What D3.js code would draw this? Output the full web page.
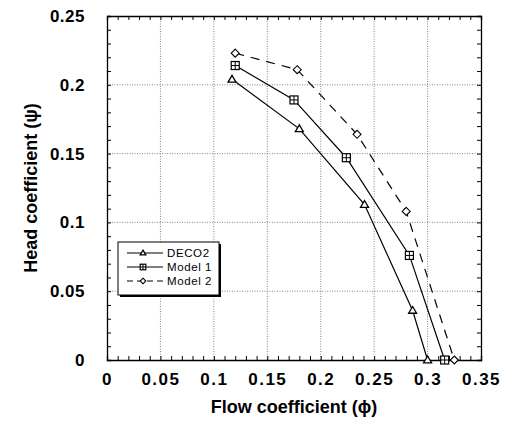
<!DOCTYPE html>
<html>
<head>
<meta charset="utf-8">
<script src="https://cdnjs.cloudflare.com/ajax/libs/d3/7.8.5/d3.min.js"></script>
<style>
  body { margin: 0; background: #fff; }
  svg { font-family: "Liberation Sans", Arial, sans-serif; }
  .tick text { font-weight: bold; font-size: 17px; fill: #000; }
  .grid line { stroke: #666; stroke-dasharray: 1,1.5; stroke-width: 0.8; }
  .lbl { font-weight: bold; font-size: 18px; }
</style>
</head>
<body>
<div id="chart"></div>
<script>

// data
var deco2X = [0.117, 0.180, 0.241, 0.286, 0.300];
var deco2Y = [0.204, 0.168, 0.113, 0.036, 0.0];

var model1X = [0.120, 0.175, 0.224, 0.283, 0.316];
var model1Y = [0.214, 0.189, 0.147, 0.076, 0.0];

var model2X = [0.120, 0.178, 0.234, 0.280, 0.325];
var model2Y = [0.223, 0.211, 0.164, 0.108, 0.0];

var xTicks = [0, 0.05, 0.1, 0.15, 0.2, 0.25, 0.3, 0.35];
var yTicks = [0, 0.05, 0.1, 0.15, 0.2, 0.25];
var seriesNames = ["DECO2", "Model 1", "Model 2"];

var margin = { left: 107, right: 29, top: 16, bottom: 64 };
var width = 510 - margin.left - margin.right;
var height = 424 - margin.top - margin.bottom;

var svg = d3.select("#chart")
    .append("svg")
    .attr("width", 510)
    .attr("height", 424)
    .append("g")
    .attr("transform", "translate(" + margin.left + "," + margin.top + ")");

var xScale = d3.scaleLinear().domain([0, 0.35]).range([0, width]);
var yScale = d3.scaleLinear().domain([0, 0.25]).range([height, 0]);

// grid
svg.append("g").attr("class", "grid")
    .selectAll("line").data(xTicks.slice(1, -1)).enter()
    .append("line")
    .attr("x1", function(d){ return xScale(d) })
    .attr("x2", function(d){ return xScale(d) })
    .attr("y1", 0).attr("y2", height);

svg.append("g").attr("class", "grid")
    .selectAll("line").data(yTicks.slice(1, -1)).enter()
    .append("line")
    .attr("y1", function(d){ return yScale(d) })
    .attr("y2", function(d){ return yScale(d) })
    .attr("x1", 0).attr("x2", width);

// minor ticks every 0.01, inward, on all four sides
var xMinor = d3.range(0, 0.3501, 0.01);
var yMinor = d3.range(0, 0.2501, 0.01);

var xAxis = d3.axisBottom(xScale).tickValues(xMinor).tickSize(-4).tickFormat("");
var yAxis = d3.axisLeft(yScale).tickValues(yMinor).tickSize(-4).tickFormat("");

svg.append("g").attr("transform", "translate(0," + height + ")").attr("class", "axis").call(xAxis);
svg.append("g").attr("class", "axis").call(d3.axisTop(xScale).tickValues(xMinor).tickSize(-4).tickFormat(""));
svg.append("g").attr("class", "axis").call(yAxis);
svg.append("g").attr("transform", "translate(" + width + ",0)").attr("class", "axis")
    .call(d3.axisRight(yScale).tickValues(yMinor).tickSize(-4).tickFormat(""));

svg.selectAll(".axis .domain").attr("stroke", "#000").attr("stroke-width", 1.3);
svg.selectAll(".axis .tick line").attr("stroke", "#000").attr("stroke-width", 1);

// tick labels
svg.append("g")
    .attr("transform", "translate(0," + height + ")")
    .call(d3.axisBottom(xScale).tickValues(xTicks).tickSize(0).tickPadding(13).tickFormat(function(d){ return d3.format("")(+d.toFixed(2)) }))
    .call(function(g){ g.select(".domain").remove() })
    .selectAll("text").attr("letter-spacing", 1.5);

svg.append("g")
    .call(d3.axisLeft(yScale).tickValues(yTicks).tickSize(0).tickPadding(22).tickFormat(function(d){ return d3.format("")(+d.toFixed(2)) }))
    .call(function(g){ g.select(".domain").remove() })
    .selectAll("text").attr("letter-spacing", 0.5);

// axis titles
svg.append("text")
    .attr("class", "lbl")
    .attr("x", width / 2)
    .attr("y", height + 53)
    .style("text-anchor", "middle")
    .text("Flow coefficient (\u03d5)");

svg.append("text")
    .attr("class", "lbl")
    .attr("transform", "rotate(-90)")
    .attr("x", -height / 2)
    .attr("y", -70)
    .style("text-anchor", "middle")
    .text("Head coefficient (\u03c8)");

// series
var line = d3.line()
    .x(function(d){ return xScale(d[0]) })
    .y(function(d){ return yScale(d[1]) });

var series = [
    { name: seriesNames[0], pts: d3.zip(deco2X, deco2Y), dash: null, marker: "tri" },
    { name: seriesNames[1], pts: d3.zip(model1X, model1Y), dash: null, marker: "sq" },
    { name: seriesNames[2], pts: d3.zip(model2X, model2Y), dash: "9,7", marker: "dia" }
];

function drawMarker(g, type, x, y, s) {
    if (type == "tri") {
        g.append("path")
            .attr("d", "M" + x + "," + (y - s) + "L" + (x + s) + "," + (y + s * 0.7) + "L" + (x - s) + "," + (y + s * 0.7) + "Z")
            .attr("fill", "#fff").attr("stroke", "#000").attr("stroke-width", 1.3);
    } else if (type == "sq") {
        g.append("rect")
            .attr("x", x - s).attr("y", y - s).attr("width", 2 * s).attr("height", 2 * s)
            .attr("fill", "#fff").attr("stroke", "#000").attr("stroke-width", 1.2);
        g.append("path")
            .attr("d", "M" + (x - s) + "," + y + "H" + (x + s) + "M" + x + "," + (y - s) + "V" + (y + s))
            .attr("stroke", "#000").attr("stroke-width", 1);
    } else {
        g.append("path")
            .attr("d", "M" + x + "," + (y - s) + "L" + (x + s) + "," + y + "L" + x + "," + (y + s) + "L" + (x - s) + "," + y + "Z")
            .attr("fill", "#fff").attr("stroke", "#000").attr("stroke-width", 1.1);
    }
}

series.forEach(function(s){
    svg.append("path")
        .datum(s.pts)
        .attr("fill", "none")
        .attr("stroke", "#000")
        .attr("stroke-width", 1.2)
        .attr("stroke-dasharray", s.dash)
        .attr("d", line);

    var mg = svg.append("g");
    s.pts.forEach(function(p){
        drawMarker(mg, s.marker, xScale(p[0]), yScale(p[1]), 4);
    });
});

// legend
var leg = svg.append("g").attr("transform", "translate(11,226)");

leg.append("rect")
    .attr("x", 2).attr("y", 2).attr("width", 101).attr("height", 53)
    .attr("fill", "#000");
leg.append("rect")
    .attr("x", 0).attr("y", 0).attr("width", 101).attr("height", 53)
    .attr("fill", "#fff").attr("stroke", "#000").attr("stroke-width", 1);

series.forEach(function(s, i){
    var yy = 11 + i * 14;
    leg.append("line")
        .attr("x1", 9).attr("x2", 45)
        .attr("y1", yy).attr("y2", yy)
        .attr("stroke", "#000").attr("stroke-width", 1)
        .attr("stroke-dasharray", s.dash ? "6,4" : null);
    drawMarker(leg, s.marker, 25, yy, 2.8);
    leg.append("text")
        .attr("x", 49).attr("y", yy + 4)
        .style("font-size", "11.5px")
        .attr("letter-spacing", 0.6)
        .text(s.name);
});

</script>
</body>
</html>
